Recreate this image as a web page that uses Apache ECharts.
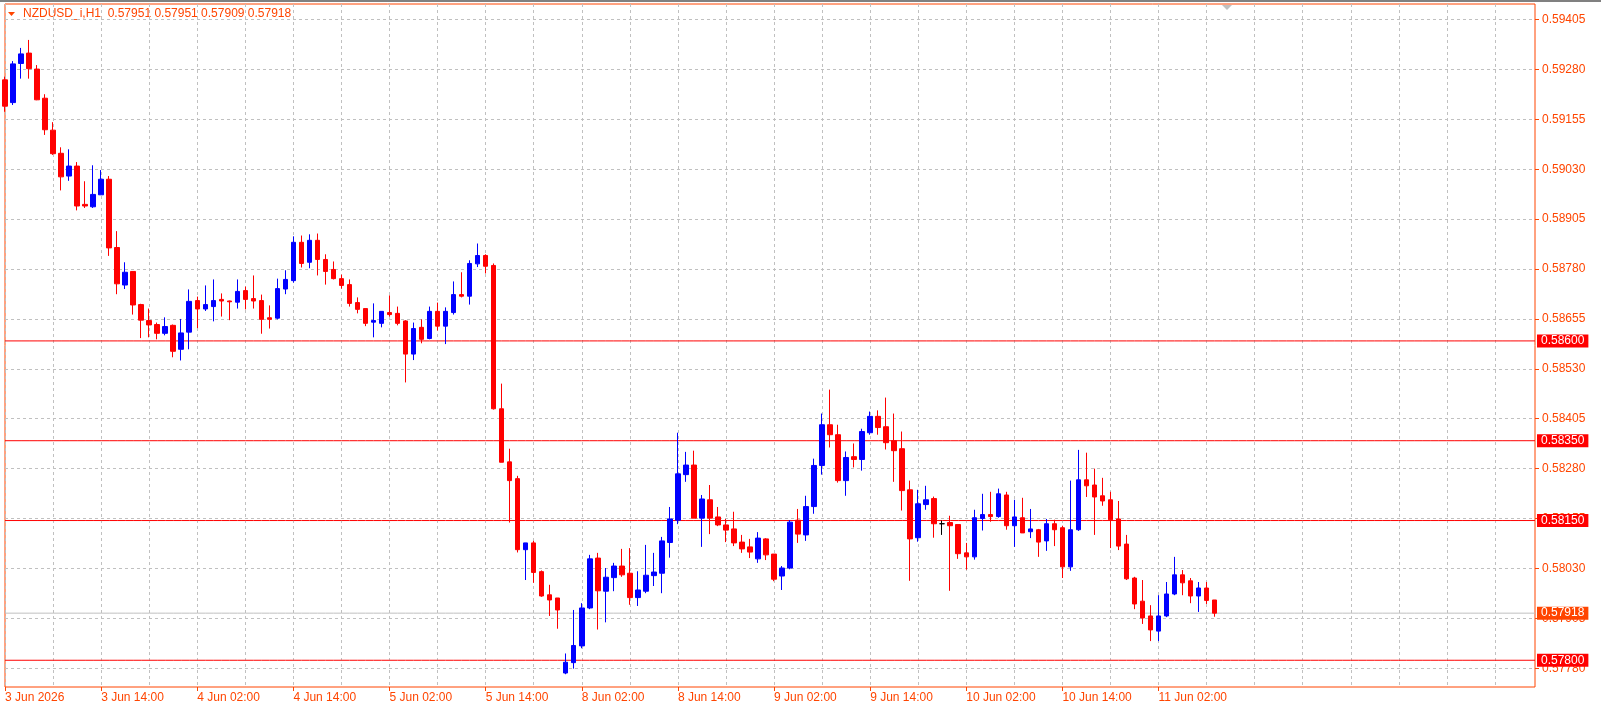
<!DOCTYPE html>
<html><head><meta charset="utf-8">
<script src="https://cdn.jsdelivr.net/npm/echarts@6/dist/echarts.min.js"></script>
<style>html,body{margin:0;padding:0;background:#fff}#c{width:1601px;height:713px}</style>
</head><body><div id="c"></div>
<script>
const openV = [0.59254,0.59197,0.59295,0.59321,0.59281,0.59208,0.59128,0.59070,0.59013,0.59038,
0.58942,0.58936,0.58966,0.59005,0.58834,0.58740,0.58774,0.58691,0.58651,0.58641,
0.58619,0.58639,0.58579,0.58622,0.58701,0.58680,0.58686,0.58704,0.58700,0.58697,
0.58726,0.58706,0.58701,0.58658,0.58657,0.58730,0.58751,0.58847,0.58797,0.58852,
0.58804,0.58779,0.58756,0.58741,0.58696,0.58681,0.58647,0.58644,0.58671,0.58669,
0.58650,0.58567,0.58634,0.58606,0.58674,0.58637,0.58671,0.58716,0.58712,0.58793,
0.58814,0.58789,0.58430,0.58297,0.58255,0.58077,0.58094,0.58022,0.57964,0.57956,
0.57768,0.57794,0.57836,0.57931,0.58056,0.57973,0.58007,0.58036,0.58018,0.57957,
0.57973,0.58012,0.58018,0.58095,0.58151,0.58265,0.58289,0.58156,0.58202,0.58159,
0.58139,0.58129,0.58096,0.58084,0.58054,0.58104,0.58066,0.58011,0.58031,0.58151,
0.58114,0.58185,0.58288,0.58390,0.58365,0.58250,0.58310,0.58303,0.58370,0.58411,
0.58385,0.58350,0.58330,0.58227,0.58107,0.58190,0.58205,0.58142,0.58145,0.58140,
0.58069,0.58059,0.58155,0.58165,0.58160,0.58214,0.58137,0.58157,0.58122,0.58127,
0.58099,0.58142,0.58132,0.58034,0.58127,0.58252,0.58239,0.58212,0.58202,0.58154,
0.58091,0.58006,0.57948,0.57911,0.57873,0.57911,0.57966,0.58014,0.57999,0.57961,
0.57981,0.57951];
const closeV = [0.59188,0.59294,0.59319,0.59282,0.59204,0.59129,0.59069,0.59011,0.59038,0.58938,
0.58938,0.58967,0.59005,0.58833,0.58743,0.58772,0.58690,0.58652,0.58640,0.58619,
0.58636,0.58574,0.58620,0.58699,0.58680,0.58691,0.58701,0.58700,0.58698,0.58724,
0.58704,0.58700,0.58654,0.58654,0.58731,0.58754,0.58847,0.58794,0.58852,0.58804,
0.58774,0.58756,0.58739,0.58694,0.58679,0.58644,0.58651,0.58674,0.58666,0.58644,
0.58567,0.58631,0.58604,0.58674,0.58637,0.58674,0.58716,0.58712,0.58794,0.58814,
0.58787,0.58430,0.58296,0.58250,0.58077,0.58094,0.58020,0.57961,0.57951,0.57926,
0.57795,0.57837,0.57931,0.58054,0.57974,0.58008,0.58036,0.58014,0.57957,0.57976,
0.58013,0.58021,0.58099,0.58154,0.58267,0.58289,0.58156,0.58204,0.58156,0.58139,
0.58126,0.58094,0.58079,0.58071,0.58106,0.58064,0.58003,0.58031,0.58146,0.58116,
0.58185,0.58288,0.58390,0.58365,0.58250,0.58308,0.58303,0.58373,0.58411,0.58383,
0.58345,0.58325,0.58225,0.58104,0.58192,0.58202,0.58142,0.58142,0.58137,0.58067,
0.58059,0.58157,0.58165,0.58160,0.58217,0.58137,0.58159,0.58119,0.58129,0.58096,
0.58142,0.58127,0.58034,0.58127,0.58252,0.58237,0.58209,0.58199,0.58152,0.58086,
0.58004,0.57941,0.57906,0.57876,0.57911,0.57966,0.58014,0.57994,0.57961,0.57981,
0.57950,0.57918];
const lowV = [0.59174,0.59191,0.59257,0.59257,0.59203,0.59116,0.59066,0.58977,0.59001,0.58927,
0.58933,0.58933,0.58966,0.58813,0.58717,0.58730,0.58666,0.58607,0.58609,0.58604,
0.58614,0.58559,0.58551,0.58579,0.58632,0.58675,0.58649,0.58661,0.58652,0.58681,
0.58679,0.58681,0.58618,0.58631,0.58654,0.58717,0.58746,0.58784,0.58782,0.58764,
0.58741,0.58754,0.58731,0.58686,0.58669,0.58637,0.58609,0.58634,0.58661,0.58639,
0.58496,0.58552,0.58594,0.58604,0.58626,0.58592,0.58666,0.58709,0.58691,0.58785,
0.58769,0.58428,0.58296,0.58145,0.58070,0.58001,0.57994,0.57959,0.57911,0.57879,
0.57765,0.57779,0.57830,0.57928,0.57877,0.57895,0.57973,0.58009,0.57939,0.57936,
0.57968,0.57986,0.57968,0.58057,0.58141,0.58247,0.58156,0.58084,0.58116,0.58136,
0.58096,0.58086,0.58069,0.58056,0.58044,0.58051,0.57998,0.57976,0.58028,0.58094,
0.58099,0.58167,0.58265,0.58333,0.58245,0.58212,0.58283,0.58275,0.58365,0.58365,
0.58328,0.58247,0.58175,0.57999,0.58097,0.58177,0.58107,0.58114,0.57974,0.58054,
0.58027,0.58052,0.58125,0.58147,0.58157,0.58127,0.58084,0.58119,0.58106,0.58059,
0.58074,0.58086,0.58006,0.58024,0.58124,0.58209,0.58114,0.58187,0.58081,0.58076,
0.58001,0.57928,0.57891,0.57848,0.57848,0.57908,0.57963,0.57963,0.57943,0.57921,
0.57941,0.57909];
const highV = [0.59262,0.59301,0.59334,0.59354,0.59291,0.59218,0.59148,0.59085,0.59080,0.59048,
0.59000,0.59040,0.59028,0.59013,0.58875,0.58797,0.58774,0.58693,0.58681,0.58646,
0.58659,0.58641,0.58655,0.58729,0.58711,0.58739,0.58754,0.58719,0.58701,0.58754,
0.58736,0.58764,0.58716,0.58689,0.58756,0.58777,0.58862,0.58864,0.58867,0.58869,
0.58817,0.58799,0.58766,0.58754,0.58709,0.58681,0.58694,0.58674,0.58714,0.58686,
0.58652,0.58646,0.58654,0.58686,0.58696,0.58684,0.58749,0.58772,0.58802,0.58844,
0.58817,0.58794,0.58493,0.58330,0.58262,0.58094,0.58099,0.58025,0.57989,0.57956,
0.57817,0.57926,0.57943,0.58064,0.58069,0.58031,0.58044,0.58079,0.58081,0.58023,
0.58089,0.58069,0.58109,0.58184,0.58370,0.58322,0.58325,0.58214,0.58239,0.58184,
0.58154,0.58172,0.58114,0.58104,0.58121,0.58106,0.58066,0.58036,0.58151,0.58179,
0.58212,0.58305,0.58418,0.58478,0.58390,0.58323,0.58343,0.58380,0.58423,0.58426,
0.58458,0.58418,0.58373,0.58250,0.58227,0.58237,0.58210,0.58150,0.58162,0.58140,
0.58094,0.58177,0.58217,0.58222,0.58230,0.58222,0.58202,0.58207,0.58179,0.58129,
0.58154,0.58152,0.58137,0.58250,0.58327,0.58320,0.58280,0.58257,0.58222,0.58199,
0.58114,0.58009,0.58001,0.57938,0.57963,0.57996,0.58059,0.58026,0.58006,0.57996,
0.57996,0.57951];
const xTickLabels = ['3 Jun 2026','3 Jun 14:00','4 Jun 02:00','4 Jun 14:00','5 Jun 02:00','5 Jun 14:00',
  '8 Jun 02:00','8 Jun 14:00','9 Jun 02:00','9 Jun 14:00','10 Jun 02:00','10 Jun 14:00','11 Jun 02:00'];
const yTicks = [0.57780,0.57905,0.58030,0.58155,0.58280,0.58405,0.58530,0.58655,0.58780,0.58905,0.59030,0.59155,0.59280,0.59405];
const levelLines = [0.58600,0.58350,0.58150,0.57800];
const bidPrice = 0.57918;
const symbolTitle = 'NZDUSD_i,H1  0.57951 0.57951 0.57909 0.57918';
const slotCount = 192;

const categories = [];
for (let i = 0; i < slotCount; i++) categories.push(String(i));
const candles = openV.map((o, i) => [o, closeV[i], lowV[i], highV[i]]);

const OR = '#FF4500';
const F = 'Liberation Sans';

function levelSeries(v, lineColor, boxColor, z) {
  return {
    type: 'line', data: categories.map(() => v), showSymbol: false, symbol: 'none', silent: true, z: z,
    lineStyle: {color: lineColor, width: 1}, clip: false,
    endLabel: {show: true, distance: 2, formatter: v.toFixed(5), color: '#fff', backgroundColor: boxColor,
      fontFamily: F, fontSize: 12, padding: [1, 4, 0, 4]}
  };
}

const chart = echarts.init(document.getElementById('c'), null, {renderer: 'canvas'});
chart.setOption({
  animation: false,
  backgroundColor: '#fff',
  grid: {left: 5, right: 66, top: 4, bottom: 26, show: true, borderColor: OR, borderWidth: 1, backgroundColor: '#fff'},
  xAxis: {
    type: 'category', data: categories, boundaryGap: false,
    axisLine: {show: false},
    axisTick: {show: true, length: 4, lineStyle: {color: OR}, interval: (i) => i % 12 === 0 && i / 12 < xTickLabels.length},
    axisLabel: {show: true, color: OR, fontFamily: F, fontSize: 12, align: 'left', margin: 5,
      interval: (i) => i % 12 === 0 && i / 12 < xTickLabels.length,
      formatter: (v, i) => xTickLabels[i / 12] || ''},
    splitLine: {show: true, interval: 5, lineStyle: {color: '#c0c0c0', type: [3, 3], width: 1}}
  },
  yAxis: {
    type: 'value', position: 'right', min: 0.57733, max: 0.59444, scale: true,
    axisLine: {show: false},
    axisTick: {show: true, length: 4, lineStyle: {color: OR}, customValues: yTicks},
    axisLabel: {show: true, color: OR, fontFamily: F, fontSize: 12, margin: 7, customValues: yTicks,
      formatter: (v) => v.toFixed(5)},
    splitLine: {show: true, lineStyle: {color: '#c0c0c0', type: [3, 3], width: 1}}
  },
  series: levelLines.map(v => levelSeries(v, '#FF0000', '#FF0000', 1))
    .concat([levelSeries(bidPrice, '#c0c0c0', OR, 1)])
    .concat([{
      type: 'candlestick', data: candles, barWidth: 5, z: 3,
      itemStyle: {color: '#0000FF', color0: '#FF0000', borderColor: '#0000FF', borderColor0: '#FF0000', borderColorDoji: '#000000', borderWidth: 1}
    }]),
  graphic: [
    {type: 'rect', left: 0, top: 0, shape: {width: 1601, height: 2}, style: {fill: '#808080'}},
    {type: 'polygon', shape: {points: [[8, 12], [15, 12], [11.5, 16]]}, style: {fill: OR}},
    {type: 'text', left: 23, top: 8, style: {text: symbolTitle, fill: OR, font: '12px "Liberation Sans"'}},
    {type: 'polygon', shape: {points: [[1222, 5], [1232, 5], [1227, 10]]}, style: {fill: '#c0c0c0'}}
  ]
});
</script></body></html>
